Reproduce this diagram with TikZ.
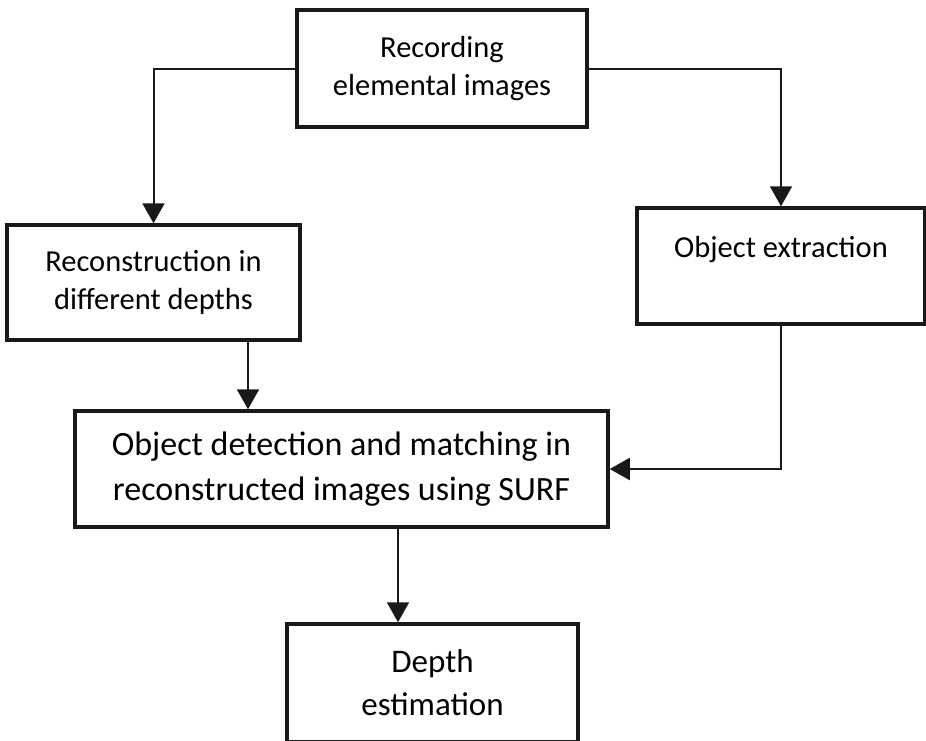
\documentclass[tikz,border=0pt]{standalone}
\usepackage{fontspec}
\setmainfont{Carlito}
\usetikzlibrary{arrows.meta}

\begin{document}
\begin{tikzpicture}
[
x=1pt,y=-1pt,
box/.style={draw=black!90,line width=3.5pt,align=center,inner sep=0pt,
font=\fontsize{30.5}{38}\selectfont},
bigbox/.style={box,font=\fontsize{34}{45}\selectfont},
arc/.style={draw=black!90,line width=2pt,-{Triangle[length=20pt,width=22pt]}}
]
\useasboundingbox (0,0) rectangle (926,740);
\clip (0,0) rectangle (926,740);
\node[box,minimum width=290,minimum height=117] (rec) at (442,68.5) {Recording\\elemental images};
\node[box,minimum width=293,minimum height=115] (recon) at (153.5,282.5) {Reconstruction in\\different depths};
\node[box,minimum width=288,minimum height=116] (extr) at (781,266) {Object extraction\\~};
\node[bigbox,minimum width=533,minimum height=116] (match) at (341.5,469) {Object detection and matching in\\reconstructed images using SURF};
\node[bigbox,font=\fontsize{33}{43}\selectfont,minimum width=291,minimum height=118] (depth) at (432.5,683) {Depth\\estimation};
\draw[arc] (rec.west) -| (recon.north);
\draw[arc] (rec.east) -| (extr.north);
\draw[arc] ([xshift=94.5]recon.south) -- ([xshift=94.5]recon.south |- match.north);
\draw[arc] (extr.south) |- (match.east);
\draw[arc] ([xshift=56.5]match.south) -- ([xshift=56.5]match.south |- depth.north);
\end{tikzpicture}
\end{document}
